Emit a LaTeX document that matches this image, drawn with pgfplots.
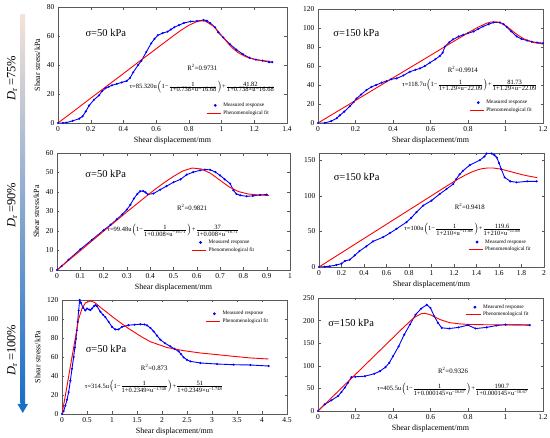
\documentclass[border=0pt]{standalone}
\usepackage{pgfplots}
\pgfplotsset{compat=1.18}
\usepackage{fontspec}
\setmainfont{Liberation Serif}
\definecolor{cA}{RGB}{245,226,215}
\definecolor{cB}{RGB}{135,120,205}
\definecolor{cC}{RGB}{25,110,200}
\pgfplotsset{
 panel/.style={scale only axis, anchor=south west,
  axis line style={black!65}, tick style={black!65},
  major tick length=2.5pt,
  tick label style={font=\fontsize{7.5}{8}\selectfont},
  label style={font=\fontsize{8}{9}\selectfont},
  xlabel={Shear displacement/mm},
  xlabel style={yshift=2pt},
  /pgf/number format/assume math mode=true,
  /pgf/number format/fixed,
  legend style={draw=none, fill=none, font=\fontsize{5.3}{6}\selectfont, row sep=-1.5pt, inner sep=1pt},
  legend cell align=left},
 measS/.style={blue, line width=0.9pt, mark=*, mark size=0.55pt,
   legend image code/.code={\fill[blue] (0.3cm,0cm) circle (0.9pt);}},
 fitS/.style={red, line width=0.9pt,
   legend image code/.code={\draw[red, line width=0.9pt] (0cm,0cm) -- (0.5cm,0cm);}},
}
\newcommand{\fml}[1]{\node[font=\fontsize{6.5}{7}\selectfont] at #1}
\newcommand{\rsq}[1]{\node[font=\fontsize{6.8}{7}\selectfont, inner sep=0.5pt] at #1}
\begin{document}
\begin{tikzpicture}[x=1pt,y=1pt]
\useasboundingbox (0,0) rectangle (550,-438);
% gradient arrow
\shade[top color=cA, middle color=cB, bottom color=cC] (20.5,-15) rectangle (25,-404);
\fill[cC] (17.5,-404) -- (28,-404) -- (22.75,-413) -- cycle;
\node[rotate=90, font=\fontsize{12.5}{13}\selectfont] at (12,-78) {\textit{D}\textsubscript{r}\,=75\%};
\node[rotate=90, font=\fontsize{12.5}{13}\selectfont] at (12,-205) {\textit{D}\textsubscript{r}\,=90\%};
\node[rotate=90, font=\fontsize{12.5}{13}\selectfont] at (12,-350) {\textit{D}\textsubscript{r}\,=100\%};

% ---------- P1
\begin{axis}[panel, at={(58pt,-123pt)}, width=229pt, height=116pt,
 xmin=0, xmax=1.4, ymin=0, ymax=80,
 xtick={0,0.2,0.4,0.6,0.8,1,1.2,1.4}, ytick={0,20,40,60,80},
 ylabel={Shear stress/kPa},
 legend style={at={(0.935,0.035)}, anchor=south east}]
\addplot[measS] coordinates {(0,0)(0.03,0)(0.05,0.2)(0.09,1.5)(0.13,3)(0.15,4.6)(0.17,8)(0.19,12)(0.22,16)(0.25,19)(0.27,22)(0.29,24)(0.31,25)(0.33,26)(0.36,27)(0.39,28)(0.42,29)(0.44,31)(0.46,35)(0.49,40)(0.51,43)(0.54,49)(0.57,55)(0.59,58)(0.61,60.5)(0.64,62)(0.67,63)(0.69,64.5)(0.71,66)(0.74,67.5)(0.77,69)(0.81,70)(0.85,70.3)(0.89,71)(0.91,70.5)(0.93,69)(0.96,66)(0.98,62.5)(1.01,59)(1.05,54.5)(1.09,50.6)(1.13,47.5)(1.17,45)(1.21,43.7)(1.25,43)(1.29,42)(1.31,42)};
\addlegendentry{Measured response}
\addplot[fitS] coordinates {(0,0)(0.1,8.5)(0.2,17.1)(0.3,25.6)(0.4,34.1)(0.5,42.7)(0.6,51.2)(0.7,59.7)(0.75,63.8)(0.8,67.4)(0.85,70.0)(0.88,70.5)(0.9,70.2)(0.92,69.0)(0.95,66.7)(0.975,63.8)(1.0,60.3)(1.025,57.0)(1.05,53.6)(1.075,50.9)(1.1,48.6)(1.15,45.6)(1.2,43.9)(1.25,43.0)(1.3,42.5)};
\addlegendentry{Phenomenological fit}
\node[anchor=west, font=\fontsize{10.5}{11}\selectfont] at (rel axis cs:0.105,0.776) {σ=50 kPa};
\rsq{(rel axis cs:0.63,0.475)} {R\textsuperscript{2}=0.9731};
\fml{(rel axis cs:0.63,0.31)} {τ=85.320u$\left(\mbox{1−}\frac{\mbox{1}}{\mbox{1+0.738×u−16.68}}\right)$+$\frac{\mbox{41.82}}{\mbox{1+0.738×u−16.68}}$};
\end{axis}

% ---------- P2
\begin{axis}[panel, at={(318pt,-123pt)}, width=225pt, height=114pt,
 xmin=0, xmax=1.2, ymin=0, ymax=120,
 xtick={0,0.2,0.4,0.6,0.8,1,1.2}, ytick={0,20,40,60,80,100,120},
 legend style={at={(0.965,0.06)}, anchor=south east}]
\addplot[measS] coordinates {(0,0)(0.036,0)(0.071,2)(0.1,5)(0.116,8)(0.14,12)(0.17,17.6)(0.19,22)(0.205,25.7)(0.23,30)(0.258,34.6)(0.285,38)(0.31,40)(0.34,42.5)(0.365,44)(0.39,46)(0.42,47)(0.455,50)(0.49,54)(0.52,56)(0.544,57.5)(0.57,60)(0.597,63.5)(0.625,67)(0.65,70.5)(0.665,74)(0.677,80.4)(0.7,85)(0.72,88)(0.75,91)(0.775,92.8)(0.8,94.5)(0.83,96.3)(0.855,99)(0.88,101.6)(0.91,104)(0.935,105.8)(0.97,105.8)(0.99,104)(1.007,101)(1.03,96.5)(1.06,91)(1.085,88.5)(1.115,86.8)(1.14,85.5)(1.168,84.7)(1.2,84)};
\addlegendentry{Measured response}
\addplot[fitS] coordinates {(0,0)(0.2,23.7)(0.4,47.5)(0.6,71.2)(0.7,83.1)(0.8,94.9)(0.85,100.5)(0.9,105.1)(0.92,106.2)(0.95,106.6)(0.97,105.7)(1.0,102.6)(1.025,98.9)(1.05,94.8)(1.075,91.3)(1.1,88.4)(1.15,84.8)(1.2,83.1)};
\addlegendentry{Phenomenological fit}
\node[anchor=west, font=\fontsize{10.5}{11}\selectfont] at (rel axis cs:0.053,0.79) {σ=150 kPa};
\rsq{(rel axis cs:0.644,0.47)} {R\textsuperscript{2}=0.9914};
\fml{(rel axis cs:0.675,0.33)} {τ=118.7u$\left(\mbox{1−}\frac{\mbox{1}}{\mbox{1+1.29×u−22.09}}\right)$+$\frac{\mbox{81.73}}{\mbox{1+1.29×u−22.09}}$};
\end{axis}

% ---------- P3
\begin{axis}[panel, at={(57pt,-270pt)}, width=233pt, height=117pt,
 xmin=0, xmax=1, ymin=0, ymax=60,
 xtick={0,0.1,0.2,0.3,0.4,0.5,0.6,0.7,0.8,0.9,1}, ytick={0,10,20,30,40,50,60},
 ylabel={Shear stress/kPa},
 legend style={at={(0.86,0.12)}, anchor=south east}]
\addplot[measS] coordinates {(0,0)(0.02,2)(0.05,5.3)(0.1,10.6)(0.15,15.5)(0.2,20.4)(0.23,23.2)(0.257,26)(0.28,28.5)(0.3,31)(0.315,33.5)(0.33,36.6)(0.345,39)(0.357,40.4)(0.37,40.5)(0.38,39.8)(0.39,38.8)(0.414,39.2)(0.443,41.2)(0.47,43)(0.5,45)(0.53,46.5)(0.557,48.9)(0.585,50.2)(0.614,51.1)(0.635,51.5)(0.657,51.4)(0.68,50.2)(0.7,48.5)(0.72,46.5)(0.743,44.3)(0.757,40.9)(0.77,39)(0.786,38.3)(0.814,37.8)(0.84,38)(0.871,38.5)(0.9,38.7)};
\addlegendentry{Measured response}
\addplot[fitS] coordinates {(0,0)(0.1,9.9)(0.2,19.9)(0.3,29.8)(0.38,37.5)(0.42,41.3)(0.46,44.8)(0.5,48)(0.54,50.8)(0.58,52.3)(0.62,51.8)(0.66,49.5)(0.7,46)(0.74,42.5)(0.78,40.2)(0.82,39)(0.86,38.5)(0.91,38.2)};
\addlegendentry{Phenomenological fit}
\node[anchor=west, font=\fontsize{10.5}{11}\selectfont] at (rel axis cs:0.107,0.82) {σ=50 kPa};
\rsq{(rel axis cs:0.58,0.535)} {R\textsuperscript{2}=0.9821};
\fml{(rel axis cs:0.50,0.34)} {τ=99.48u$\left(\mbox{1−}\frac{\mbox{1}}{\mbox{1+0.008×u\textsuperscript{−16.71}}}\right)$+$\frac{\mbox{37}}{\mbox{1+0.008×u\textsuperscript{−16.71}}}$};
\end{axis}

% ---------- P4
\begin{axis}[panel, at={(319pt,-267pt)}, width=225pt, height=114pt,
 xmin=0, xmax=2, ymin=0, ymax=160,
 xtick={0,0.2,0.4,0.6,0.8,1,1.2,1.4,1.6,1.8,2}, ytick={0,50,100,150},
 legend style={at={(0.955,0.1)}, anchor=south east}]
\addplot[measS] coordinates {(0,0)(0.05,0.3)(0.095,1)(0.154,2.8)(0.2,4.7)(0.23,8.4)(0.273,10.2)(0.318,16.3)(0.36,22.4)(0.42,28.9)(0.48,35.9)(0.57,41.9)(0.63,47.5)(0.69,53.6)(0.777,62.9)(0.82,69)(0.866,76.9)(0.926,86.2)(1,93.2)(1.074,102.5)(1.134,109.5)(1.193,116.4)(1.22,123.4)(1.25,130)(1.28,135)(1.34,143)(1.43,150)(1.47,155)(1.49,159.3)(1.534,159.3)(1.56,157)(1.58,153.7)(1.6,146)(1.62,137.4)(1.65,125.8)(1.70,120.2)(1.757,118.8)(1.85,120.2)(1.935,120.2)};
\addlegendentry{Measured response}
\addplot[fitS] coordinates {(0,0)(0.5,50)(1.0,100)(1.1,110.1)(1.2,120)(1.25,124.7)(1.3,129)(1.35,132.8)(1.4,135.9)(1.45,138)(1.5,139)(1.55,138.9)(1.6,137.8)(1.65,136.1)(1.7,134)(1.75,131.9)(1.8,129.8)(1.85,128)(1.94,125.4)};
\addlegendentry{Phenomenological fit}
\node[anchor=west, font=\fontsize{10.5}{11}\selectfont] at (rel axis cs:0.05,0.79) {σ=150 kPa};
\rsq{(rel axis cs:0.67,0.53)} {R\textsuperscript{2}=0.9418};
\fml{(rel axis cs:0.64,0.33)} {τ=100u$\left(\mbox{1−}\frac{\mbox{1}}{\mbox{1+210×u\textsuperscript{−11.88}}}\right)$+$\frac{\mbox{119.6}}{\mbox{1+210×u\textsuperscript{−11.88}}}$};
\end{axis}

% ---------- P5
\begin{axis}[panel, at={(62pt,-414pt)}, width=225pt, height=114pt,
 xmin=0, xmax=4.5, ymin=0, ymax=120,
 xtick={0,0.5,1,1.5,2,2.5,3,3.5,4,4.5}, ytick={0,20,40,60,80,100,120},
 ylabel={Shear stress/kPa},
 legend style={at={(0.93,0.93)}, anchor=north east}]
\addplot[measS] coordinates {(0,0)(0.033,3)(0.067,8.8)(0.1,15)(0.133,23)(0.167,35)(0.2,47.6)(0.233,60)(0.257,70)(0.28,79)(0.297,88)(0.313,97)(0.333,109)(0.353,120)(0.38,117)(0.42,112)(0.467,109)(0.5,111)(0.54,110)(0.567,109.5)(0.6,111)(0.64,113.5)(0.667,114.6)(0.7,113.5)(0.767,107.6)(0.82,104.5)(0.867,102)(0.933,97)(1.0,91.7)(1.067,89)(1.13,89)(1.2,91.7)(1.33,93.5)(1.45,94)(1.567,94.5)(1.65,94.2)(1.7,93.3)(1.77,90.5)(1.833,87)(1.9,82.5)(1.967,78.2)(2.06,74.5)(2.167,71.2)(2.25,68.5)(2.333,66)(2.38,63)(2.433,59.6)(2.5,57)(2.567,55.4)(2.767,53.7)(3.1,52.6)(3.433,51.9)(3.767,51.6)(4.133,50.5)};
\addlegendentry{Measured response}
\addplot[fitS] coordinates {(0,0)(0.067,19.4)(0.133,39.5)(0.2,60)(0.267,80)(0.333,100)(0.4,111)(0.47,117)(0.567,118.9)(0.65,117.5)(0.8,111)(1.067,100)(1.33,90)(1.6,81)(1.77,76)(2.1,70)(2.43,66.7)(2.77,64.2)(3.1,62.5)(3.43,60.7)(3.77,59)(4.13,57.9)};
\addlegendentry{Phenomenological fit}
\node[anchor=west, font=\fontsize{10.5}{11}\selectfont] at (rel axis cs:0.09,0.57) {σ=50 kPa};
\rsq{(rel axis cs:0.41,0.41)} {R\textsuperscript{2}=0.873};
\fml{(rel axis cs:0.41,0.24)} {τ=314.5u$\left(\mbox{1−}\frac{\mbox{1}}{\mbox{1+0.2349×u\textsuperscript{−1.748}}}\right)$+$\frac{\mbox{51}}{\mbox{1+0.2349×u\textsuperscript{−1.748}}}$};
\end{axis}

% ---------- P6
\begin{axis}[panel, at={(318pt,-411pt)}, width=225pt, height=113pt,
 xmin=0, xmax=1.2, ymin=0, ymax=250,
 xtick={0,0.2,0.4,0.6,0.8,1,1.2}, ytick={0,50,100,150,200,250},
 legend style={at={(0.95,0.97)}, anchor=north east}]
\addplot[measS] coordinates {(0,0)(0.036,14.7)(0.071,23.5)(0.107,33)(0.125,42)(0.143,51.5)(0.16,62.5)(0.178,75)(0.2,75.7)(0.25,77)(0.3,82.4)(0.33,88)(0.36,97)(0.38,106.6)(0.4,121)(0.43,143)(0.46,169)(0.49,191)(0.52,213)(0.55,226.5)(0.58,235)(0.6,228)(0.62,209.6)(0.64,195)(0.66,184)(0.7,182.4)(0.75,185)(0.8,190)(0.84,182.4)(0.9,185)(0.95,189)(1.0,191)(1.13,190)};
\addlegendentry{Measured response}
\addplot[fitS] coordinates {(0,0)(0.1,40.6)(0.2,81.1)(0.3,121.7)(0.4,162.2)(0.45,182.5)(0.5,202)(0.52,208.6)(0.55,215.1)(0.57,216.2)(0.6,212.8)(0.65,202.4)(0.7,195.6)(0.75,193)(0.8,191.5)(0.9,190.8)(1.0,190.7)(1.13,190.7)};
\addlegendentry{Phenomenological fit}
\node[anchor=west, font=\fontsize{10.5}{11}\selectfont] at (rel axis cs:0.03,0.78) {σ=150 kPa};
\rsq{(rel axis cs:0.60,0.36)} {R\textsuperscript{2}=0.9326};
\fml{(rel axis cs:0.60,0.19)} {τ=405.5u$\left(\mbox{1−}\frac{\mbox{1}}{\mbox{1+0.000145×u\textsuperscript{−16.67}}}\right)$+$\frac{\mbox{190.7}}{\mbox{1+0.000145×u\textsuperscript{−16.67}}}$};
\end{axis}
\end{tikzpicture}
\end{document}
